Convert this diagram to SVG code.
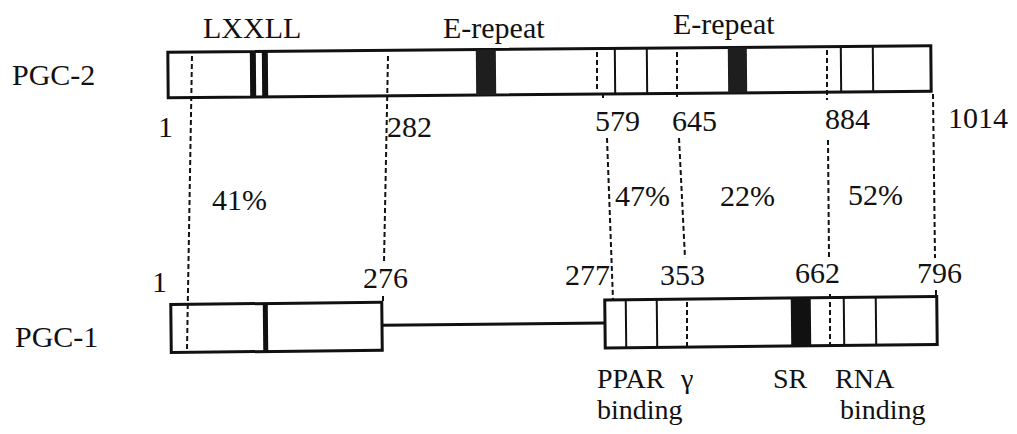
<svg xmlns="http://www.w3.org/2000/svg" width="1017" height="434" viewBox="0 0 1017 434">
  <style>
    text { font-family: "Liberation Serif", "Times New Roman", serif; font-size: 30px; fill: #111; }
    .small { font-size: 28px; }
    .bar { fill: #fff; stroke: #111; stroke-width: 3; }
    .div { stroke: #111; stroke-width: 2; }
    .erep { fill: #1e1e1e; }
    .solid { fill: #111; }
    .link { stroke: #111; stroke-width: 3; }
    .dash { fill: none; stroke: #111; stroke-width: 2; stroke-dasharray: 5 3; }
  </style>
  <rect width="1017" height="434" fill="#fff"/>

  <!-- PGC-2 protein (1014 aa) -->
  <g id="pgc2">
    <g transform="rotate(-0.5 550 72)">
      <rect class="bar" x="168" y="49" width="763" height="45.5"/>
      <!-- LXXLL motif -->
      <rect class="solid" x="250" y="49" width="6" height="45.5"/>
      <rect class="solid" x="262" y="49" width="6" height="45.5"/>
      <!-- E-repeats -->
      <rect class="erep" x="476" y="49" width="20" height="45.5"/>
      <rect class="erep" x="728" y="49" width="19" height="45.5"/>
      <line class="div" x1="615" y1="49" x2="615" y2="94.5"/>
      <line class="div" x1="647" y1="49" x2="647" y2="94.5"/>
      <line class="div" x1="841" y1="49" x2="841" y2="94.5"/>
      <line class="div" x1="873" y1="49" x2="873" y2="94.5"/>
    </g>
    <text x="12" y="85">PGC-2</text>
    <text x="203" y="38">LXXLL</text>
    <text x="443" y="38">E-repeat</text>
    <text x="673" y="34">E-repeat</text>
    <text x="158" y="137">1</text>
    <text x="387" y="137">282</text>
    <text x="595" y="131">579</text>
    <text x="672" y="131">645</text>
    <text x="825" y="129">884</text>
    <text x="948" y="128">1014</text>
  </g>

  <!-- PGC-1 protein (796 aa) -->
  <g id="pgc1">
    <g transform="rotate(-0.6 554 325)">
      <rect class="bar" x="171" y="300.5" width="211" height="48"/>
      <rect class="solid" x="263" y="300.5" width="5" height="48"/>
      <line class="link" x1="382" y1="323.5" x2="605" y2="323.5"/>
      <rect class="bar" x="605" y="300.5" width="332" height="48"/>
      <line class="div" x1="626" y1="300.5" x2="626" y2="348.5"/>
      <line class="div" x1="657" y1="300.5" x2="657" y2="348.5"/>
      <!-- SR domain -->
      <rect class="solid" x="791" y="300.5" width="20" height="48"/>
      <line class="div" x1="844" y1="300.5" x2="844" y2="348.5"/>
      <line class="div" x1="876" y1="300.5" x2="876" y2="348.5"/>
    </g>
    <text x="15" y="347">PGC-1</text>
    <text x="152" y="292">1</text>
    <text x="363" y="288">276</text>
    <text x="565" y="285">277</text>
    <text x="660" y="285">353</text>
    <text x="795" y="283">662</text>
    <text x="917" y="283">796</text>
    <text class="small" x="597" y="388">PPAR<tspan x="681">γ</tspan></text>
    <text class="small" x="597" y="419">binding</text>
    <text class="small" x="773" y="388">SR</text>
    <text class="small" x="835" y="388">RNA</text>
    <text class="small" x="840" y="419">binding</text>
  </g>

  <!-- homology boundaries between the two proteins -->
  <g id="connectors">
    <path class="dash" d="M192 56 L187 350"/>
    <path class="dash" d="M388 56 L384 262 M383 296 L383 302"/>
    <path class="dash" d="M597 52 L597 90 M603 93 L603 101 M607 138 L613 300"/>
    <path class="dash" d="M677 52 L677 100 M679 138 L685 258 M687 302 L687 346"/>
    <path class="dash" d="M827 50 L827 100 M828 140 L829 258 M830 294 L830 346"/>
    <path class="dash" d="M933 94 L935 258 M936 290 L936 298"/>
    <text x="212" y="210">41%</text>
    <text x="615" y="206">47%</text>
    <text x="720" y="206">22%</text>
    <text x="848" y="205">52%</text>
  </g>
</svg>
